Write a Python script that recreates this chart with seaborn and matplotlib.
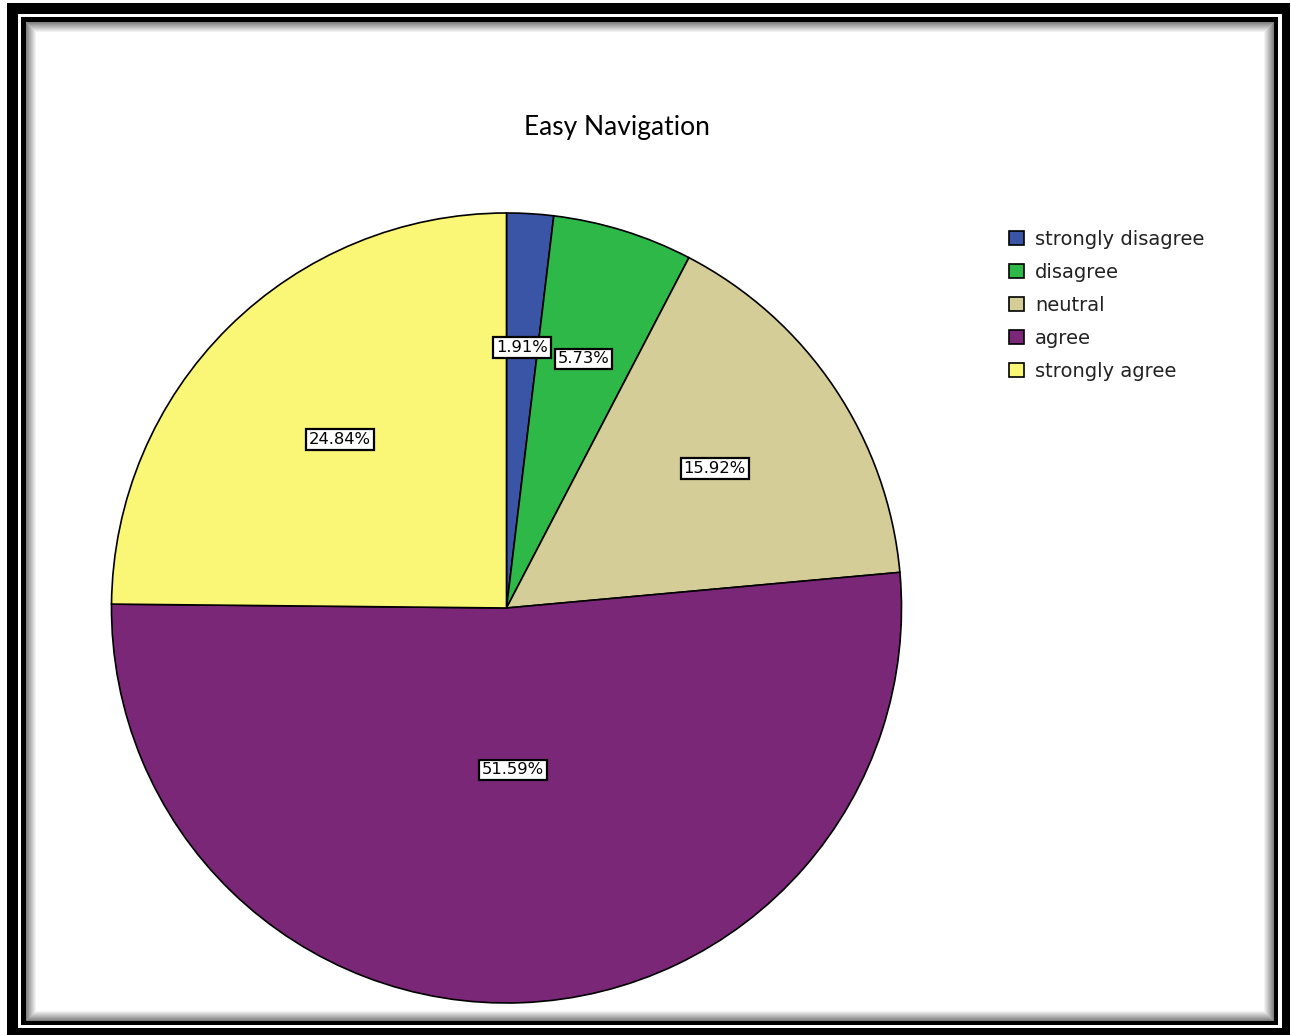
import numpy as np
import pandas as pd
import seaborn as sns
import matplotlib
matplotlib.use("Agg")
import matplotlib.pyplot as plt
from matplotlib.patches import Rectangle, Patch

# ---- data ----
categories = ["strongly disagree", "disagree", "neutral", "agree", "strongly agree"]
percentages = [1.91, 5.73, 15.92, 51.59, 24.84]
colors = ["#3A54A6", "#2EB848", "#D4CD98", "#7B2778", "#FBF776"]
title = "Easy Navigation"
# radial position of each percentage label (fraction of radius)
label_radius = [0.66, 0.66, 0.635, 0.41, 0.60]

sns.set_theme(style="white")
plt.rcParams["font.family"] = ["DejaVu Sans"]

W, H = 1291, 1035
fig = plt.figure(figsize=(W / 100, H / 100), dpi=100)
fig.patch.set_facecolor("white")


def px_rect(x0, y0, x1, y1, z, **kw):
    """rectangle in pixel coords (top-left origin) -> figure patch"""
    r = Rectangle((x0 / W, 1 - y1 / H), (x1 - x0) / W, (y1 - y0) / H,
                  transform=fig.transFigure, zorder=z, **kw)
    fig.patches.append(r)


# frame
px_rect(7, 3, 1290, 1035, -30, facecolor="black", edgecolor="none")
px_rect(18, 14, 1282, 1028, -29, facecolor="white", edgecolor="none")
px_rect(21, 17, 1278, 1025, -28, facecolor="black", edgecolor="none")
px_rect(26, 22, 1273, 1020, -27, facecolor="white", edgecolor="none")
for k in range(11):
    g = min(0.5 + 0.05 * k, 1.0)
    px_rect(26 + k, 22 + k, 1273 - k, 1020 - k, -26 + k, facecolor="none",
            edgecolor=(g, g, g), linewidth=0.75)

# pie axes
cx, cy, R = 506.5, 608, 395
ax = fig.add_axes([(cx - R) / W, 1 - (cy + R) / H, 2 * R / W, 2 * R / H])
ax.patch.set_visible(False)
df = pd.DataFrame({"category": categories, "pct": percentages, "color": colors})
wedges, _ = ax.pie(df["pct"], colors=df["color"], startangle=90, counterclock=False,
                   radius=1, wedgeprops=dict(edgecolor="black", linewidth=1.2))
ax.set_xlim(-1, 1)
ax.set_ylim(-1, 1)
ax.set_aspect("equal")
ax.axis("off")

for w, pct, rf in zip(wedges, df["pct"], label_radius):
    ang = np.deg2rad((w.theta1 + w.theta2) / 2)
    ax.text(rf * np.cos(ang), rf * np.sin(ang), f"{pct:.2f}%", ha="center", va="center",
            fontsize=11.8, color="black",
            bbox=dict(boxstyle="square,pad=0.17", facecolor="white", edgecolor="black",
                      linewidth=1.6))

fig.text(617 / W, 1 - 127 / H, title, ha="center", va="center", fontsize=19,
         color="black", family=["Lato", "DejaVu Sans"])

handles = [Patch(facecolor=c, edgecolor="black", linewidth=1.2) for c in colors]
fig.legend(handles, categories, loc="upper left", bbox_to_anchor=(1009 / W, 1 - 230 / H),
           frameon=False, fontsize=14, handlelength=0.75, handleheight=0.75,
           handletextpad=0.6, labelspacing=0.72, borderaxespad=0, borderpad=0,
           labelcolor="#222222")

fig.savefig("out.png", dpi=100, facecolor="white")
